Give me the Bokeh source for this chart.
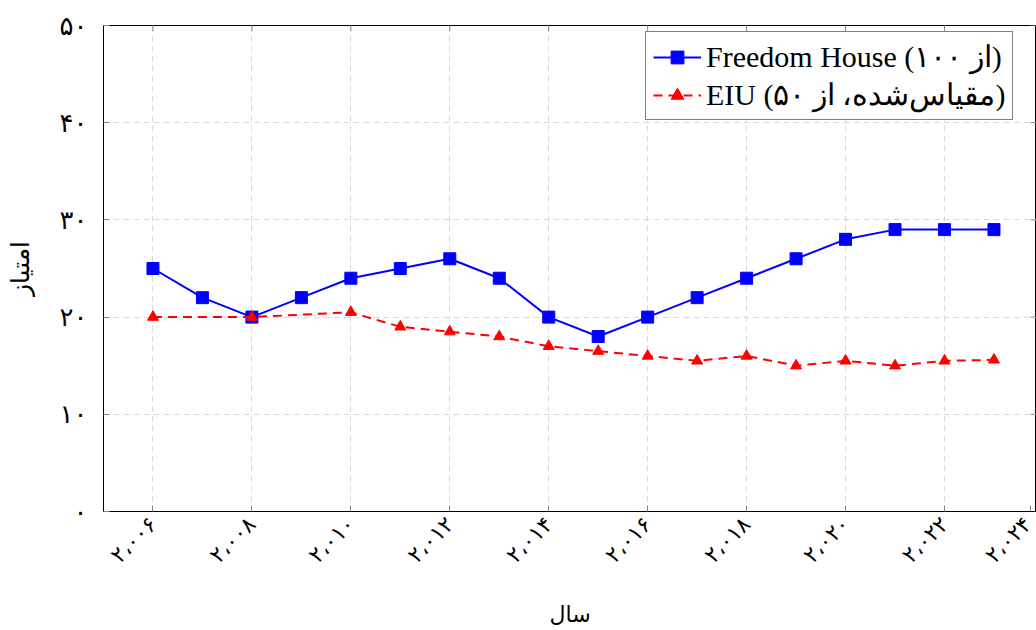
import math
from bokeh.plotting import figure
from bokeh.models import FixedTicker, Legend, LegendItem, Range1d
from bokeh.embed import file_html
from bokeh.resources import INLINE

# ---- data ----
fh_years = [2006, 2007, 2008, 2009, 2010, 2011, 2012, 2013, 2014, 2015,
            2016, 2017, 2018, 2019, 2020, 2021, 2022, 2023]
fh_scores = [25, 22, 20, 22, 24, 25, 26, 24, 20, 18,
             20, 22, 24, 26, 28, 29, 29, 29]
eiu_years = [2006, 2008, 2010, 2011, 2012, 2013, 2014, 2015,
             2016, 2017, 2018, 2019, 2020, 2021, 2022, 2023]
eiu_scores = [20, 20, 20.5, 19, 18.5, 18, 17, 16.5,
              16, 15.5, 16, 15, 15.5, 15, 15.5, 15.6]

x_ticks = [2006, 2008, 2010, 2012, 2014, 2016, 2018, 2020, 2022]
x_tick_labels = ["۲،۰۰۶", "۲،۰۰۸", "۲،۰۱۰", "۲،۰۱۲", "۲،۰۱۴",
                 "۲،۰۱۶", "۲،۰۱۸", "۲،۰۲۰", "۲،۰۲۲"]
x_extra_tick = 2024
x_extra_label = "۲،۰۲۴"
y_ticks = [0, 10, 20, 30, 40, 50]
y_tick_labels = ["۰", "۱۰", "۲۰", "۳۰", "۴۰", "۵۰"]
x_title = "سال"
y_title = "امتیاز"
legend_labels = ["Freedom House (از ۱۰۰)", "EIU (مقیاس‌شده، از ۵۰)"]

X_MIN, X_MAX = 2005, 2023.86
Y_MIN, Y_MAX = 0, 50

FA_FONT = "DejaVu Sans"
LAT_FONT = "Liberation Serif"

p = figure(width=1036, height=630, output_backend="svg", toolbar_location=None,
           x_range=Range1d(X_MIN, X_MAX), y_range=Range1d(Y_MIN, Y_MAX),
           min_border_left=103, min_border_right=0, min_border_top=25,
           min_border_bottom=119)

p.outline_line_color = "black"
p.outline_line_width = 1
p.background_fill_color = "white"
p.border_fill_color = "white"

# grid
for g in (p.xgrid, p.ygrid):
    g.grid_line_color = "#d9d9d9"
    g.grid_line_dash = "6 4"
    g.grid_line_width = 1
p.xgrid.ticker = FixedTicker(ticks=x_ticks)
p.ygrid.ticker = FixedTicker(ticks=y_ticks[1:-1])

# bottom axis (the 2024 label sits at the frame's right edge, where the
# reference shows it just past the plotted range)
extra_pos = min(x_extra_tick, X_MAX - 0.12)
xa = p.xaxis[0]
xa.ticker = FixedTicker(ticks=x_ticks + [extra_pos])
overrides = {t: l for t, l in zip(x_ticks, x_tick_labels)}
overrides[extra_pos] = x_extra_label
xa.major_label_overrides = overrides
xa.major_label_orientation = math.pi / 4
xa.major_label_text_font = FA_FONT
xa.major_label_text_font_size = "22px"
xa.major_label_text_color = "black"
xa.major_label_standoff = 9
xa.major_tick_in = 6
xa.major_tick_out = 0
xa.minor_tick_line_color = None
xa.axis_line_color = "black"
xa.major_tick_line_color = "#888888"
xa.axis_label = x_title
xa.axis_label_text_font = FA_FONT
xa.axis_label_text_font_size = "22px"
xa.axis_label_text_font_style = "normal"
xa.axis_label_text_color = "black"
xa.axis_label_standoff = 22

# left axis
ya = p.yaxis[0]
ya.ticker = FixedTicker(ticks=y_ticks)
ya.major_label_overrides = {t: l for t, l in zip(y_ticks, y_tick_labels)}
ya.major_label_text_font = FA_FONT
ya.major_label_text_font_size = "26px"
ya.major_label_text_color = "black"
ya.major_label_standoff = 16
ya.major_tick_in = 6
ya.major_tick_out = 0
ya.minor_tick_line_color = None
ya.axis_line_color = "black"
ya.major_tick_line_color = "#888888"
ya.axis_label = y_title
ya.axis_label_text_font = FA_FONT
ya.axis_label_text_font_size = "25px"
ya.axis_label_text_font_style = "normal"
ya.axis_label_text_color = "black"
ya.axis_label_standoff = 22

# inward ticks on top and right frame edges (from the tick lists)
p.segment(x0=x_ticks, y0=[Y_MAX] * len(x_ticks), x1=x_ticks,
          y1=[Y_MAX - 0.6] * len(x_ticks), line_color="#888888", line_width=1)
p.segment(x0=[X_MAX] * len(y_ticks), y0=y_ticks, x1=[X_MAX - 0.12] * len(y_ticks),
          y1=y_ticks, line_color="#888888", line_width=1)

# series
fh_line = p.line(fh_years, fh_scores, line_color="#0000ff", line_width=2)
fh_pts = p.scatter(fh_years, fh_scores, marker="square", size=12,
                   fill_color="#0000ff", line_color="#0000ff")
eiu_line = p.line(eiu_years, eiu_scores, line_color="#ff0000", line_width=2,
                  line_dash="9 6")
eiu_pts = p.scatter(eiu_years, eiu_scores, marker="triangle", size=11,
                    fill_color="#ff0000", line_color="#ff0000")

legend = Legend(items=[LegendItem(label=legend_labels[0], renderers=[fh_line, fh_pts]),
                       LegendItem(label=legend_labels[1], renderers=[eiu_line, eiu_pts])],
                location=(542, 391))
legend.label_text_font = LAT_FONT
legend.label_text_font_size = "30px"
legend.label_text_color = "black"
legend.glyph_width = 48
legend.glyph_height = 32
legend.label_height = 32
legend.label_standoff = 5
legend.spacing = 3
legend.padding = 7
legend.margin = 0
legend.border_line_color = "black"
legend.border_line_width = 1
legend.background_fill_alpha = 1
p.add_layout(legend, "center")

open("out.html", "w").write(file_html(p, INLINE))
